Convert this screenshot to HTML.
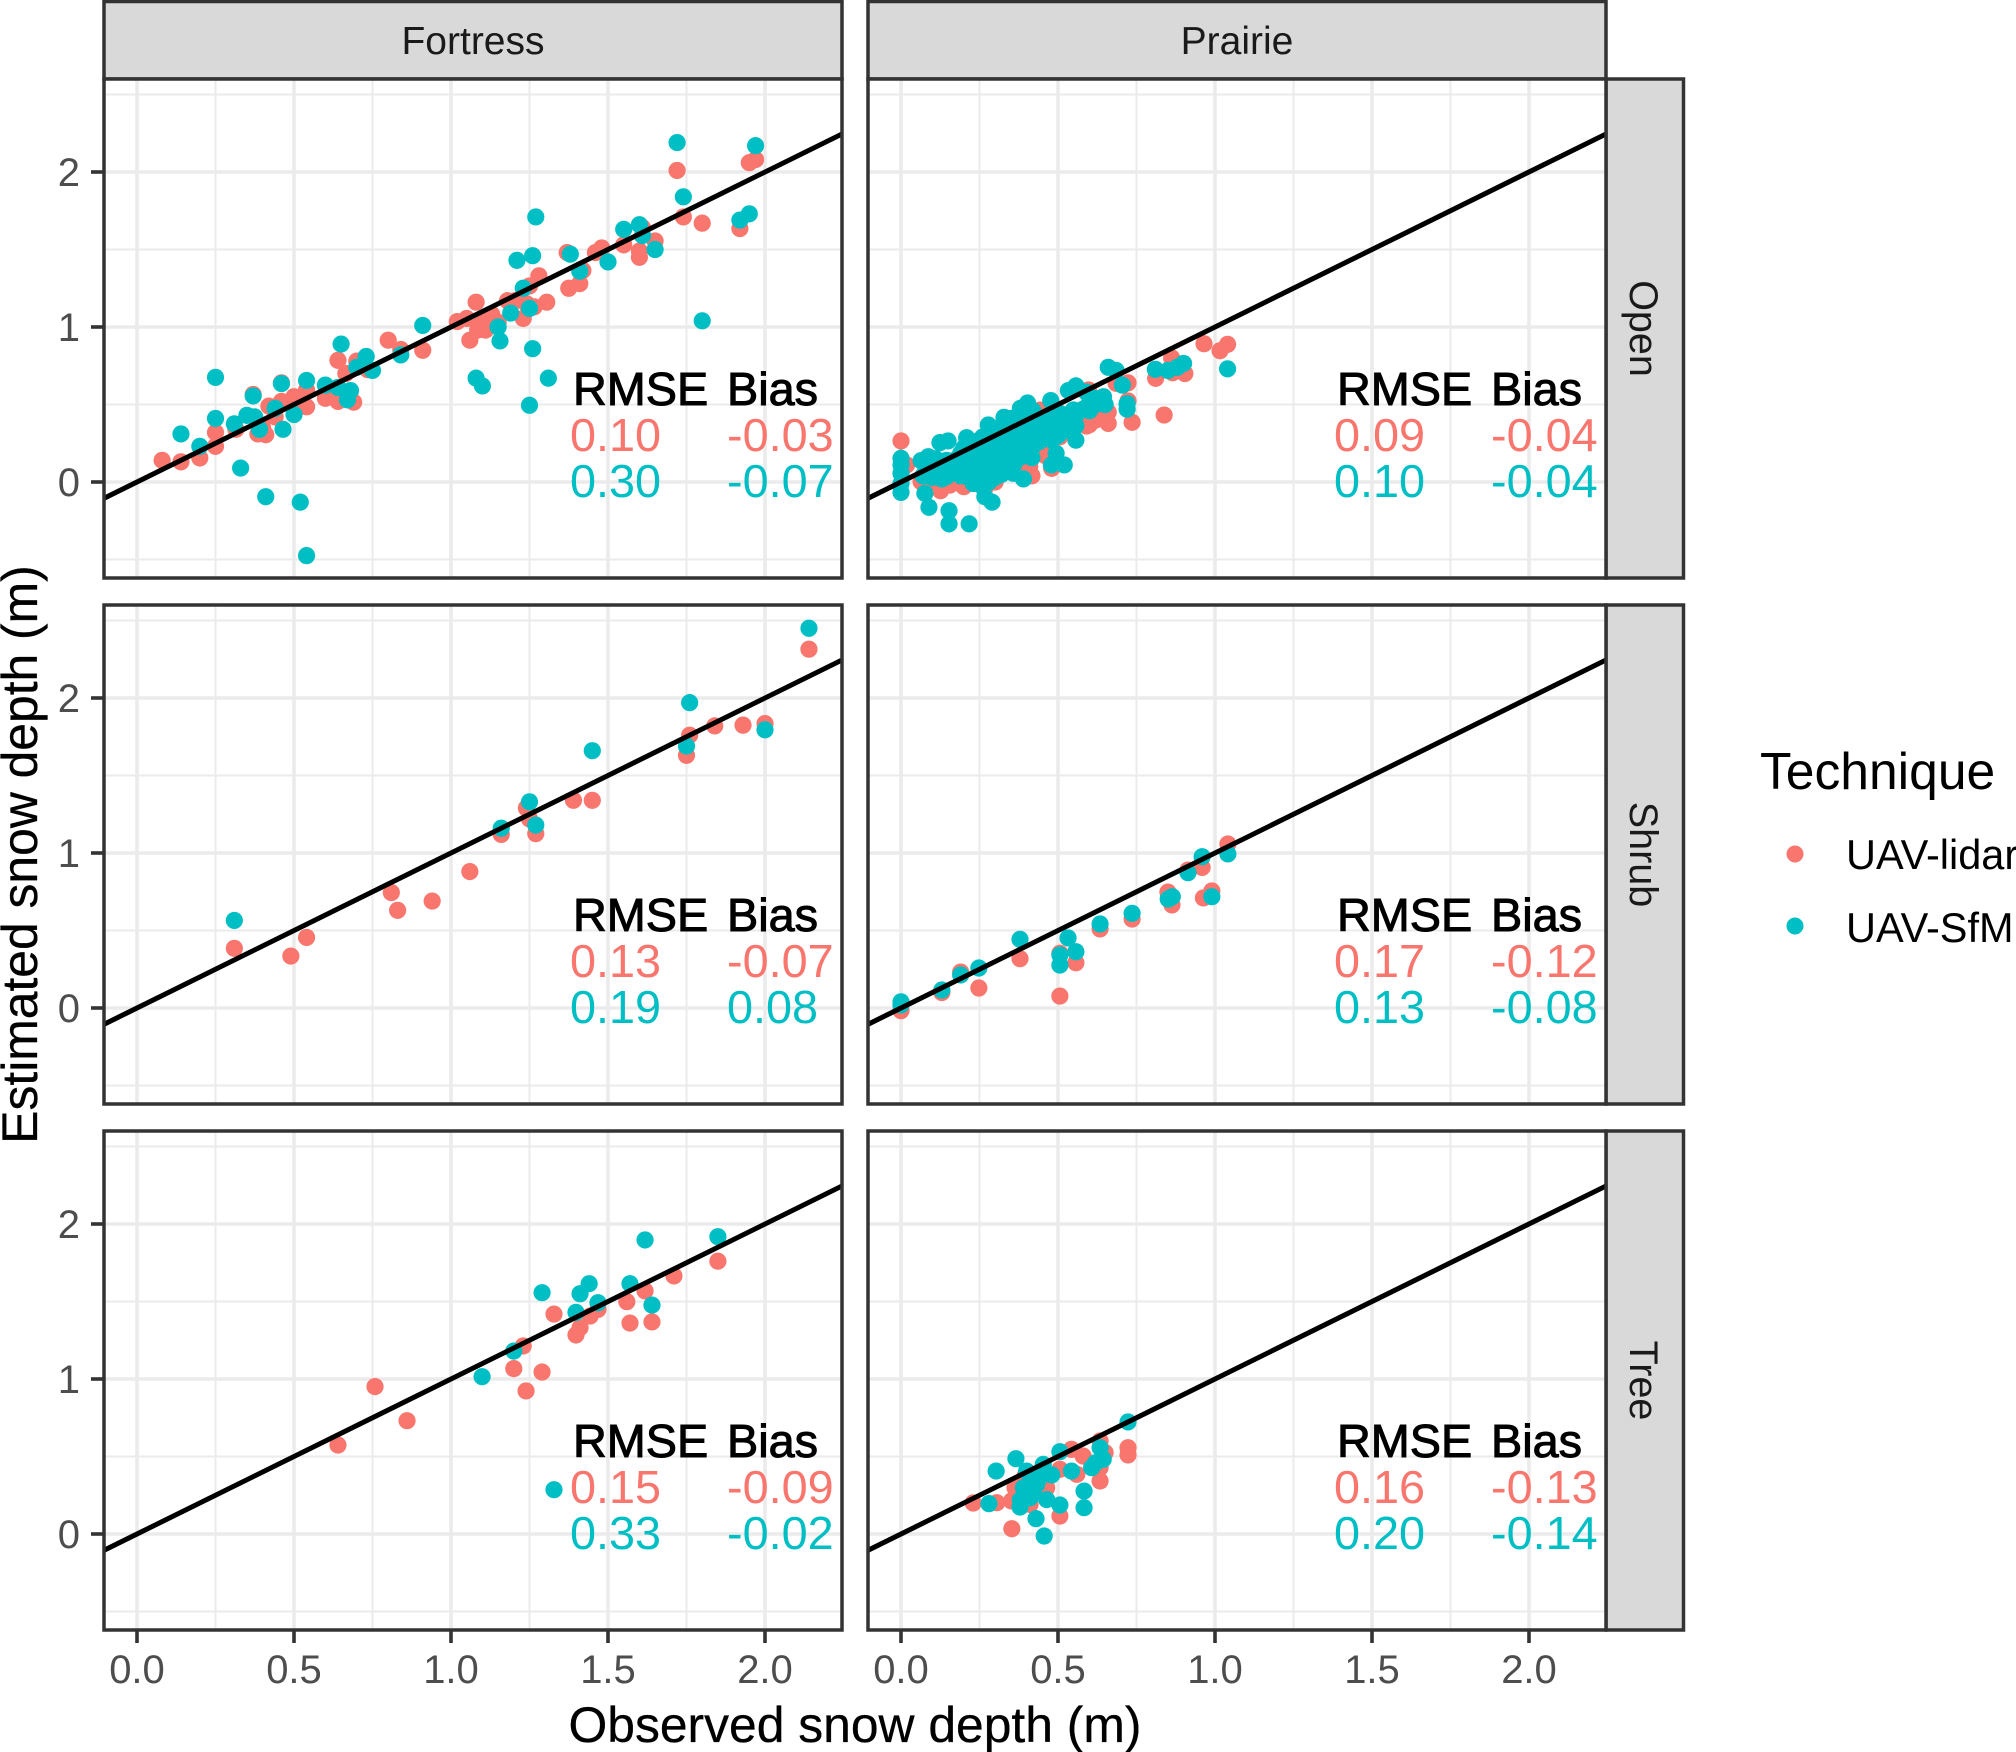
<!DOCTYPE html>
<html lang="en">
<head>
<meta charset="utf-8">
<title>Observed vs estimated snow depth</title>
<style>
html,body{margin:0;padding:0;background:#fff;}
svg{display:block;font-family:"Liberation Sans",Arial,sans-serif;}
</style>
</head>
<body>
<svg id="chart" xmlns="http://www.w3.org/2000/svg" width="2016" height="1752" viewBox="0 0 2016 1752">
  <rect x="0" y="0" width="2016" height="1752" fill="#ffffff"/>
  <g id="panels"></g>
  <text x="855" y="1742" font-size="49.8" text-anchor="middle" fill="#000" stroke="#000" stroke-width="0.3">Observed snow depth (m)</text>
  <text transform="translate(37,854.5) rotate(-90)" font-size="49.8" text-anchor="middle" fill="#000" stroke="#000" stroke-width="0.3">Estimated snow depth (m)</text>
  <g>
    <text x="1760" y="789" font-size="51.6" fill="#000">Technique</text>
    <circle cx="1795" cy="854" r="8.5" fill="#F8766D"/>
    <text x="1846" y="869" font-size="41.5" fill="#000">UAV-lidar</text>
    <circle cx="1795" cy="926" r="8.5" fill="#00BFC4"/>
    <text x="1846" y="942" font-size="41.5" fill="#000">UAV-SfM</text>
  </g>
</svg>
<script>
// ---------- data: [observed, estimated] ----------
var columnNames = ["Fortress", "Prairie"];
var rowNames = ["Open", "Shrub", "Tree"];
var xTickValues = [0, 0.5, 1, 1.5, 2];
var xTickLabels = ["0.0", "0.5", "1.0", "1.5", "2.0"];
var xMinorValues = [0.25, 0.75, 1.25, 1.75];
var yTickValues = [0, 1, 2];
var yTickLabels = ["0", "1", "2"];
var yMinorValues = [-0.5, 0.5, 1.5, 2.5];

var rmseLidar = [["0.10", "0.09"], ["0.13", "0.17"], ["0.15", "0.16"]];
var rmseSfm = [["0.30", "0.10"], ["0.19", "0.13"], ["0.33", "0.20"]];
var biasLidar = [["-0.03", "-0.04"], ["-0.07", "-0.12"], ["-0.09", "-0.13"]];
var biasSfm = [["-0.07", "-0.04"], ["0.08", "-0.08"], ["-0.02", "-0.14"]];

var fortressOpenLidar = [[.08,.14],[.14,.13],[.20,.155],[.25,.23],[.25,.32],[.315,.34],[.385,.31],[.41,.305],[.37,.565],[.42,.49],[.46,.52],[.46,.64],[.54,.485],[.54,.595],[.49,.50],[.60,.54],[.64,.52],[.69,.515],[.64,.785],[.70,.78],[.665,.70],[.735,.725],[.80,.915],[.84,.855],[.91,.85],[1.02,1.035],[1.05,1.055],[1.08,1.16],[1.06,.915],[1.10,1.03],[1.11,.98],[1.085,.98],[1.15,1.03],[1.18,1.17],[1.205,1.17],[1.23,1.055],[1.25,1.265],[1.28,1.33],[1.265,1.13],[1.305,1.16],[1.375,1.25],[1.41,1.28],[1.42,1.365],[1.37,1.48],[1.46,1.48],[1.48,1.51],[1.55,1.53],[1.60,1.45],[1.60,1.49],[1.61,1.64],[1.65,1.555],[1.74,1.71],[1.80,1.67],[1.92,1.635],[1.72,2.01],[1.95,2.06],[1.97,2.08],[.40,.35],[.44,.42],[.50,.55],[.62,.58],[1.13,1.08],[1.24,1.15]];
var fortressOpenSfm = [[1.72,2.19],[1.97,2.17],[1.74,1.84],[1.27,1.71],[1.92,1.69],[1.95,1.73],[1.55,1.63],[1.60,1.66],[1.61,1.59],[1.65,1.50],[1.38,1.47],[1.21,1.43],[1.26,1.46],[1.50,1.42],[1.41,1.36],[1.23,1.25],[1.19,1.09],[1.25,1.12],[1.15,1.0],[1.156,.91],[1.26,.86],[.91,1.01],[1.80,1.04],[1.08,.67],[1.10,.62],[1.31,.67],[1.25,.495],[.84,.82],[.65,.89],[.73,.81],[.75,.72],[.70,.74],[.25,.675],[.46,.635],[.54,.655],[.60,.625],[.37,.555],[.64,.61],[.68,.59],[.67,.53],[.44,.475],[.50,.435],[.25,.41],[.35,.43],[.375,.42],[.31,.375],[.39,.34],[.465,.34],[.14,.31],[.20,.23],[.33,.09],[.41,-.095],[.52,-.13],[.54,-.475]];

var prairieOpenLidar = [[0,.265],[1.04,.888],[1.016,.847],[.965,.892],[.862,.80],[.811,.669],[.865,.705],[.904,.70],[.838,.432],[.736,.385],[.723,.523],[.723,.64],[.685,.637],[.66,.378],[.591,.361],[.618,.432],[.644,.42],[.597,.594],[.56,.443],[.48,.088],[.417,.04],[.38,.14],[.336,.067],[.267,-.04],[.126,-.056],[.156,-.02],[.064,.002],[.018,.11],[.464,.292],[.506,.292],[.528,.357],[.443,.464],[.40,.25],[.5,.36],[.54,.4],[.58,.42],[.62,.4],[.66,.45],[.6,.37],[.47,.2],[.42,.28],[.41,.1],[.38,.07],[.3,.0],[.12,-.01],[.09,.0],[.2,-.03],[.46,.17]];
var prairieOpenSfm = [[1.04,.73],[.90,.765],[.88,.74],[.85,.72],[.81,.727],[.66,.74],[.685,.72],[.705,.625],[.72,.47],[.72,.505],[.557,.62],[.533,.59],[.59,.58],[.645,.55],[.613,.54],[.477,.525],[.403,.51],[.38,.475],[.328,.417],[.278,.368],[.209,.286],[.15,.265],[.124,.254],[.087,.163],[.064,.138],[0,.153],[0,.11],[0,.056],[0,-.01],[0,-.067],[.076,-.073],[.089,-.163],[.153,-.185],[.153,-.27],[.217,-.27],[.29,-.13],[.267,-.095],[.39,.02],[.358,.056],[.417,.157],[.479,.11],[.52,.11],[.494,.185],[.557,.27],[.557,.363],[.517,.378],[.08,.08],[.11,.08],[.145,.035],[.18,.10],[.21,.035],[.24,.013],[.27,.035],[.22,.14],[.25,.14],[.295,.14],[.335,.165],[.37,.205],[.295,.25],[.335,.29],[.38,.335],[.42,.38],[.44,.38],[.475,.335],[.24,.23],[.19,.185],[.145,.14],[.10,.12],[.315,.10],[.23,-.01],[.26,-.03],[.40,.40],[.36,.38],[.315,.335],[.26,.29],[.464,.42],[.506,.443],[.549,.465],[.60,.51],[.634,.54],[.07,.04],[.10,.03],[.13,.02],[.16,.06],[.19,.04],[.22,.03],[.25,0],[.28,0],[.30,.03],[.32,.05],[.34,.08],[.36,.12],[.38,.16],[.40,.2],[.42,.23],[.44,.26],[.46,.30],[.48,.27],[.50,.3],[.52,.33],[.54,.36],[.28,.08],[.30,.07],[.26,.1],[.23,.08],[.20,.14],[.17,.14],[.14,.1],[.11,.15],[.24,.18],[.27,.2],[.30,.19],[.33,.21],[.36,.25],[.39,.28],[.41,.32],[.44,.33],[.47,.38],[.5,.4],[.53,.42],[.56,.44],[.58,.47],[.6,.46],[.62,.5],[.65,.5],[.2,.22],[.23,.26],[.28,.3],[.32,.36],[.35,.41],[.42,.46],[.39,.43],[.29,.33],[.37,.33],[.33,.27],[.3,.13],[.34,.14],[.31,.24]];

var fortressShrubLidar = [[2.14,2.315],[1.76,1.76],[1.75,1.63],[1.84,1.82],[1.93,1.825],[2.0,1.835],[1.45,1.34],[1.39,1.34],[1.24,1.29],[1.25,1.22],[1.27,1.125],[1.16,1.12],[1.06,.88],[.81,.745],[.83,.63],[.94,.69],[.54,.455],[.49,.335],[.31,.385]];
var fortressShrubSfm = [[2.14,2.45],[1.76,1.97],[1.45,1.66],[1.25,1.33],[1.27,1.18],[1.16,1.16],[1.75,1.69],[2.0,1.795],[.31,.565]];

var prairieShrubLidar = [[0,-.017],[.13,.10],[.19,.232],[.248,.129],[.379,.318],[.506,.353],[.506,.077],[.557,.292],[.634,.51],[.736,.574],[.85,.748],[.863,.665],[.914,.89],[.959,.907],[.963,.71],[.99,.755],[1.041,1.058]];
var prairieShrubSfm = [[0,.04],[0,.02],[.13,.116],[.19,.213],[.248,.258],[.379,.443],[.532,.452],[.557,.363],[.506,.342],[.506,.277],[.634,.542],[.736,.611],[.851,.703],[.864,.718],[.914,.873],[.959,.976],[.99,.718],[1.041,.994]];

var fortressTreeLidar = [[1.85,1.76],[1.71,1.665],[1.618,1.568],[1.56,1.499],[1.57,1.361],[1.64,1.368],[1.468,1.449],[1.443,1.406],[1.411,1.331],[1.398,1.284],[1.328,1.419],[1.23,1.213],[1.20,1.067],[1.29,1.045],[1.239,.923],[.758,.951],[.86,.731],[.64,.574]];
var fortressTreeSfm = [[1.618,1.897],[1.85,1.918],[1.57,1.615],[1.44,1.615],[1.411,1.55],[1.29,1.557],[1.468,1.492],[1.64,1.477],[1.398,1.43],[1.20,1.18],[1.099,1.015],[1.328,.286]];

var prairieTreeLidar = [[.23,.2],[.305,.202],[.352,.213],[.353,.034],[.411,.191],[.506,.116],[.634,.342],[.723,.557],[.723,.51],[.634,.60],[.543,.546],[.58,.503],[.65,.525],[.634,.428],[.56,.385],[.506,.417],[.464,.299],[.363,.299],[.395,.374]];
var prairieTreeSfm = [[.723,.723],[.366,.486],[.303,.406],[.506,.531],[.453,.449],[.40,.406],[.543,.406],[.48,.381],[.634,.557],[.644,.482],[.607,.428],[.411,.299],[.39,.299],[.432,.32],[.583,.277],[.583,.17],[.28,.196],[.379,.174],[.411,.234],[.464,.222],[.506,.187],[.43,.099],[.456,-.013],[.42,.27],[.40,.25],[.44,.36],[.62,.46],[.38,.22]];

var lidarSeries = [[fortressOpenLidar, prairieOpenLidar], [fortressShrubLidar, prairieShrubLidar], [fortressTreeLidar, prairieTreeLidar]];
var sfmSeries = [[fortressOpenSfm, prairieOpenSfm], [fortressShrubSfm, prairieShrubSfm], [fortressTreeSfm, prairieTreeSfm]];

// ---------- layout ----------
var SVGNS = "http://www.w3.org/2000/svg";
var root = document.getElementById("panels");
var colLeft = [104, 868];
var panelW = 738;
var rowTop = [79, 605, 1131];
var panelH = 499;
var xUnit = 314;
var yUnit = 155;
var LIDAR = "#F8766D";
var SFM = "#00BFC4";
var GRID = "#EBEBEB";
var DARK = "#333333";
var POINT_R = 8.6;
var NOTE_SIZE = 46.8;

function mk(tag, attrs, parent) {
  var el = document.createElementNS(SVGNS, tag);
  for (var k in attrs) { el.setAttribute(k, attrs[k]); }
  parent.appendChild(el);
  return el;
}
function xPos(c, v) { return colLeft[c] + 33 + v * xUnit; }
function yPos(r, v) { return rowTop[r] + 403 - v * yUnit; }

function slug(s) { return s.toLowerCase(); }

// column strips
columnNames.forEach(function (name, c) {
  var g = mk("g", {}, root);
  
  
  var strip = mk("rect", { x: colLeft[c], y: 1.5, width: panelW, height: 77.5, fill: "#D9D9D9", stroke: DARK, "stroke-width": 3.5 }, g);
  
  
  var t = mk("text", { x: colLeft[c] + panelW / 2, y: 54, "font-size": 39, "text-anchor": "middle", fill: "#1A1A1A" }, g);
  
  
  t.textContent = name;
});

// row strips
rowNames.forEach(function (name, r) {
  var g = mk("g", {}, root);
  
  
  var strip = mk("rect", { x: 1606, y: rowTop[r], width: 77.5, height: panelH, fill: "#D9D9D9", stroke: DARK, "stroke-width": 3.5 }, g);
  
  
  var cy = rowTop[r] + panelH / 2;
  var t = mk("text", { transform: "translate(1630," + cy + ") rotate(90)", "font-size": 39.5, "text-anchor": "middle", fill: "#1A1A1A" }, g);
  
  
  t.textContent = name;
});

function drawPanel(r, c) {
  var panelName = slug(columnNames[c]) + '-' + slug(rowNames[r]);
  var g = mk("g", {}, root);
  
  
  var L = colLeft[c], T = rowTop[r], R = L + panelW, B = T + panelH;

  var clipId = "clip-" + panelName;
  var defs = mk("defs", {}, g);
  var cp = mk("clipPath", { id: clipId }, defs);
  mk("rect", { x: L, y: T, width: panelW, height: panelH }, cp);

  var bg = mk("rect", { x: L, y: T, width: panelW, height: panelH, fill: "#fff" }, g);
  
  

  var inner = mk("g", { "clip-path": "url(#" + clipId + ")" }, g);

  yMinorValues.forEach(function (v) {
    var l = mk("line", { x1: L, x2: R, y1: yPos(r, v), y2: yPos(r, v), stroke: GRID, "stroke-width": 2 }, inner);
    
    
  });
  xMinorValues.forEach(function (v) {
    var l = mk("line", { x1: xPos(c, v), x2: xPos(c, v), y1: T, y2: B, stroke: GRID, "stroke-width": 2 }, inner);
    
    
  });
  yTickValues.forEach(function (v) {
    var l = mk("line", { x1: L, x2: R, y1: yPos(r, v), y2: yPos(r, v), stroke: GRID, "stroke-width": 3.6 }, inner);
    
    
  });
  xTickValues.forEach(function (v) {
    var l = mk("line", { x1: xPos(c, v), x2: xPos(c, v), y1: T, y2: B, stroke: GRID, "stroke-width": 3.6 }, inner);
    
    
  });

  lidarSeries[r][c].forEach(function (p) {
    var d = mk("circle", { cx: xPos(c, p[0]), cy: yPos(r, p[1]), r: POINT_R, fill: LIDAR }, inner);
    
    
  });
  sfmSeries[r][c].forEach(function (p) {
    var d = mk("circle", { cx: xPos(c, p[0]), cy: yPos(r, p[1]), r: POINT_R, fill: SFM }, inner);
    
    
  });

  var lo = -0.2, hi = 2.4;
  var ref = mk("line", { x1: xPos(c, lo), y1: yPos(r, lo), x2: xPos(c, hi), y2: yPos(r, hi), stroke: "#000", "stroke-width": 5 }, inner);
  
  

  var x0 = xPos(c, 0), y0 = yPos(r, 0);
  var h1 = mk("text", { x: x0 + 436, y: y0 - 77, "font-size": NOTE_SIZE, fill: "#000", stroke: "#000", "stroke-width": 1 }, g);
  
  
  h1.textContent = "RMSE";
  var h2 = mk("text", { x: x0 + 590, y: y0 - 77, "font-size": NOTE_SIZE, fill: "#000", stroke: "#000", "stroke-width": 1 }, g);
  
  
  h2.textContent = "Bias";
  var a = mk("text", { x: x0 + 433, y: y0 - 31, "font-size": NOTE_SIZE, fill: LIDAR }, g);
  
  
  a.textContent = rmseLidar[r][c];
  var b = mk("text", { x: x0 + 590, y: y0 - 31, "font-size": NOTE_SIZE, fill: LIDAR }, g);
  
  
  b.textContent = biasLidar[r][c];
  var e = mk("text", { x: x0 + 433, y: y0 + 15, "font-size": NOTE_SIZE, fill: SFM }, g);
  
  
  e.textContent = rmseSfm[r][c];
  var f = mk("text", { x: x0 + 590, y: y0 + 15, "font-size": NOTE_SIZE, fill: SFM }, g);
  
  
  f.textContent = biasSfm[r][c];

  var border = mk("rect", { x: L, y: T, width: panelW, height: panelH, fill: "none", stroke: DARK, "stroke-width": 3.5 }, g);
  
  

  if (c === 0) {
    yTickValues.forEach(function (v, i) {
      var tk = mk("line", { x1: L - 13, x2: L, y1: yPos(r, v), y2: yPos(r, v), stroke: DARK, "stroke-width": 3.6 }, g);
      
      
      var lb = mk("text", { x: 80, y: yPos(r, v) + 14, "font-size": 40, "text-anchor": "end", fill: "#4D4D4D" }, g);
      
      
      lb.textContent = yTickLabels[i];
    });
  }
  if (r === rowNames.length - 1) {
    xTickValues.forEach(function (v, i) {
      var tk = mk("line", { x1: xPos(c, v), x2: xPos(c, v), y1: B, y2: B + 13, stroke: DARK, "stroke-width": 3.6 }, g);
      
      
      var lb = mk("text", { x: xPos(c, v), y: 1683, "font-size": 40, "text-anchor": "middle", fill: "#4D4D4D" }, g);
      
      
      lb.textContent = xTickLabels[i];
    });
  }
}

for (var r = 0; r < rowNames.length; r++) {
  for (var c = 0; c < columnNames.length; c++) {
    drawPanel(r, c);
  }
}
</script>
</body>
</html>
